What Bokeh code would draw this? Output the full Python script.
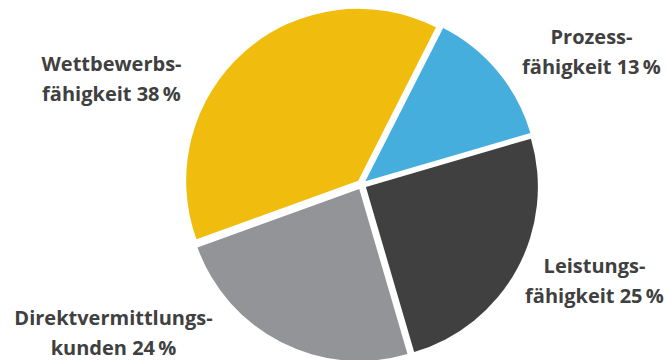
import math
from bokeh.plotting import figure
from bokeh.models import Range1d
from bokeh.core.properties import value
from bokeh.embed import file_html
from bokeh.resources import INLINE

# Data (clockwise from the yellow/blue boundary)
categories = ["Prozessfähigkeit", "Leistungsfähigkeit", "Direktvermittlungskunden", "Wettbewerbsfähigkeit"]
shares = [13, 25, 24, 38]
colors = ["#45AEDC", "#404040", "#939497", "#F0BD0E"]
label_line1 = ["Prozess-", "Leistungs-", "Direktvermittlungs-", "Wettbewerbs-"]
label_line2 = ["fähigkeit 13\u2009%", "fähigkeit 25\u2009%", "kunden 24\u2009%", "fähigkeit 38\u2009%"]

# Layout constants
W, H = 667, 360
CX, CY = 361, H - 184
R = 172
EXPLODE = 5
START_CLOCK_DEG = 26.9  # clockwise from 12 o'clock
label_pos = [(591, 36), (594, 265), (113, 317), (111, 63)]
LINE_GAP = 30

p = figure(width=W, height=H, output_backend="svg", toolbar_location=None,
           x_range=Range1d(0, W), y_range=Range1d(0, H), min_border=0)
p.axis.visible = False
p.grid.visible = False
p.outline_line_color = None
p.background_fill_color = "white"
p.border_fill_color = "white"

total = sum(shares)
theta = START_CLOCK_DEG
xs, ys, sa, ea = [], [], [], []
for s in shares:
    span = s / total * 360.0
    t0, t1 = theta, theta + span
    mid = math.radians((t0 + t1) / 2)
    xs.append(CX + EXPLODE * math.sin(mid))
    ys.append(CY + EXPLODE * math.cos(mid))
    sa.append(math.radians(90 - t0))
    ea.append(math.radians(90 - t1))
    theta = t1

p.wedge(x=xs, y=ys, radius=R, start_angle=sa, end_angle=ea, direction="clock",
        fill_color=colors, line_color=None)

tx, ty1, ty2 = [], [], []
for (lx, ly) in label_pos:
    tx.append(lx)
    ty1.append(H - ly)
    ty2.append(H - ly - LINE_GAP)

for txt, yy in ((label_line1, ty1), (label_line2, ty2)):
    p.text(x=tx, y=yy, text=txt, text_align="center", text_baseline="middle",
           text_font=value("Open Sans"), text_font_style="bold",
           text_font_size="20px", text_color="#404040")

open("out.html", "w").write(file_html(p, INLINE))
